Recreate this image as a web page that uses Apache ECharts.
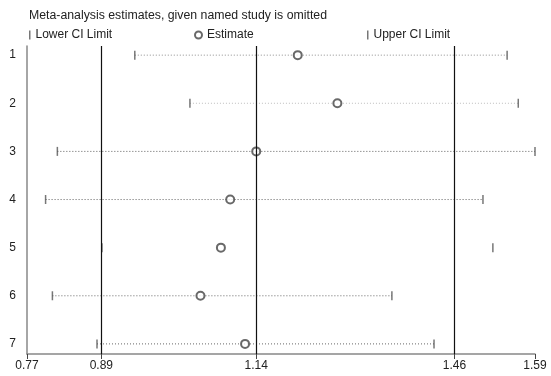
<!DOCTYPE html>
<html>
<head>
<meta charset="utf-8">
<script src="https://cdn.jsdelivr.net/npm/echarts@6/dist/echarts.min.js"></script>
<style>
  html, body { margin: 0; padding: 0; background: #fff; }
  #chart { width: 551px; height: 376px; }
</style>
</head>
<body>
<div id="chart"></div>
<script>
// 省略某项研究后的合并估计（metaninf 图）
var studies = [1, 2, 3, 4, 5, 6, 7];
var lowerCI = [0.944, 1.033, 0.819, 0.800, 0.891, 0.811, 0.883];
var estimate = [1.207, 1.271, 1.140, 1.098, 1.083, 1.050, 1.122];
var upperCI = [1.545, 1.563, 1.590, 1.506, 1.522, 1.359, 1.427];
var xTicks = [0.77, 0.89, 1.14, 1.46, 1.59];
var refLines = [0.89, 1.14, 1.46];

// 虚线的浓淡（原图里细点线有的几乎看不见）
var dotAlpha = [0.6, 0.35, 0.85, 0.85, 0, 0.8, 0.8];

(function () {
  var myChart = echarts.init(document.getElementById("chart"));
  var font = "Liberation Sans, Arial, sans-serif";

  var ciData = studies.map(function (s, i) { return [lowerCI[i], upperCI[i], s]; });
  var lowData = studies.map(function (s, i) { return [lowerCI[i], s]; });
  var estData = studies.map(function (s, i) { return [estimate[i], s]; });
  var upData = studies.map(function (s, i) { return [upperCI[i], s]; });

  var legendText = { color: "#222", fontSize: 12, fontFamily: font };

  var option = {
    animation: false,
    title: {
      text: "Meta-analysis estimates, given named study is omitted",
      left: 29,
      top: 10,
      padding: 0,
      textStyle: { color: "#222", fontSize: 12.3, fontWeight: "normal", fontFamily: font }
    },
    legend: [
      {
        data: ["Lower CI Limit"], left: 29, top: 29, padding: 0,
        icon: "rect", itemWidth: 1.5, itemHeight: 9, textStyle: legendText
      },
      {
        data: ["Estimate"], left: 194, top: 29, padding: 0,
        icon: "emptyCircle", itemWidth: 7, itemHeight: 7, textStyle: legendText
      },
      {
        data: ["Upper CI Limit"], left: 367, top: 29, padding: 0,
        icon: "rect", itemWidth: 1.5, itemHeight: 9, textStyle: legendText
      }
    ],
    grid: { left: 27, right: 16, top: 46, bottom: 22 },
    xAxis: {
      type: "value",
      min: 0.77,
      max: 1.59,
      splitLine: { show: false },
      axisLine: { lineStyle: { color: "#888", width: 1.5 } },
      axisTick: { customValues: xTicks, length: 5, lineStyle: { color: "#444" } },
      axisLabel: {
        customValues: xTicks,
        color: "#222",
        fontSize: 12,
        fontFamily: font,
        margin: 6,
        formatter: function (v) { return v.toFixed(2); }
      }
    },
    yAxis: {
      type: "value",
      inverse: true,
      min: 0.81,
      max: 7.21,
      splitLine: { show: false },
      axisLine: { show: true, lineStyle: { color: "#888", width: 1.5 } },
      axisTick: { show: false },
      axisLabel: {
        customValues: studies,
        color: "#222",
        fontSize: 12,
        fontFamily: font,
        margin: 11
      }
    },
    series: [
      {
        name: "ci",
        type: "custom",
        silent: true,
        data: ciData,
        encode: { x: [0, 1], y: 2 },
        renderItem: function (params, api) {
          var y = api.value(2);
          var a = api.coord([api.value(0), y]);
          var b = api.coord([api.value(1), y]);
          return {
            type: "line",
            shape: { x1: a[0], y1: a[1], x2: b[0], y2: b[1] },
            style: {
              stroke: "#444",
              lineWidth: 1,
              lineDash: [1, 2],
              opacity: dotAlpha[params.dataIndex]
            }
          };
        },
        markLine: {
          silent: true,
          symbol: "none",
          label: { show: false },
          lineStyle: { color: "#111", type: "solid", width: 1.2 },
          data: refLines.map(function (v) { return { xAxis: v }; })
        }
      },
      {
        name: "Lower CI Limit",
        type: "scatter",
        data: lowData,
        symbol: "rect",
        symbolSize: [1.5, 9],
        itemStyle: { color: "#555" }
      },
      {
        name: "Upper CI Limit",
        type: "scatter",
        data: upData,
        symbol: "rect",
        symbolSize: [1.5, 9],
        itemStyle: { color: "#555" }
      },
      {
        name: "Estimate",
        type: "scatter",
        data: estData,
        symbol: "emptyCircle",
        symbolSize: 8,
        itemStyle: { color: "#444", borderColor: "#444", borderWidth: 1 }
      }
    ]
  };

  myChart.setOption(option);
  window.addEventListener("resize", function () {
    myChart.resize();
  });
})();
</script>
</body>
</html>
